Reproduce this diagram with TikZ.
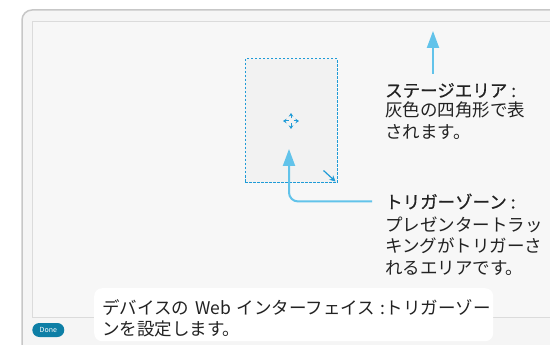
\documentclass[tikz,border=0pt]{standalone}
\usepackage{fontspec}
\setmainfont{Noto Sans CJK JP}
\newfontfamily\titlefont[FakeBold=0.5]{Noto Sans CJK JP}
\usetikzlibrary{positioning,arrows.meta,calc}
\definecolor{calloutblue}{HTML}{62C3EA}
\definecolor{zoneblue}{HTML}{1F9BD7}
\definecolor{donebtn}{HTML}{0E7FA6}
\definecolor{inktext}{HTML}{222222}
\tikzset{
    calloutarrow/.style={
        draw=calloutblue,line width=2pt,-{Triangle[length=17pt,width=12pt]}
    },
    titletext/.style={
        anchor=base west,inner sep=0pt,text=inktext,font=\fontsize{17.5}{21.5}\selectfont\titlefont
    },
    bodytext/.style={
        anchor=north west,inner sep=0pt,align=left,text=inktext,font=\fontsize{17.5}{21.5}\selectfont
    },
    zonenode/.style={
        draw=zoneblue,line width=1pt,dash pattern=on 2.5pt off 1.5pt,fill=black!5,minimum width=92pt,minimum height=124pt
    },
    iconarrow/.style={
        draw=zoneblue,line width=1pt,-{Stealth[length=3.5pt,width=4.5pt]}
    }
}

\begin{document}
\begin{tikzpicture}[x=1pt,y=-1pt]
\useasboundingbox (0,0) rectangle (550,345);
\clip (0,0) rectangle (550,345);
% screen frame
\draw[fill=black!4,draw=black!22,line width=1.5pt,rounded corners=10pt] (22,360) -- (22,10) -- (570,10) -- (570,360) -- cycle;
\draw[fill=black!3,draw=black!14,line width=1pt] (32,22) rectangle (570,317.5);

\node[zonenode] (zone) at (291,121) {};
\foreach \dx/\dy in {1/0,-1/0,0/1,0/-1}
    \draw[iconarrow] ($(zone.center)+(2.5*\dx,2.5*\dy)$) -- ($(zone.center)+(8*\dx,8*\dy)$);
\draw[iconarrow,line width=1.2pt,-{Stealth[length=6pt,width=6pt]}] ($(zone.south east)+(-14,-13)$) -- ($(zone.south east)+(-2,-2)$);

\node[titletext] (stagetitle) at (385,97) {ステージエリア :};
\node[bodytext] (stagebody) at (385,102) {灰色の四角形で表\\されます。};
\coordinate (stagetip) at (433,31);
\draw[calloutarrow,shorten <=9pt] (stagetip |- stagetitle.north) -- (stagetip);

\node[titletext] (trigtitle) at (385,208.5) {トリガーゾーン :};
\node[bodytext] (trigbody) at (385,216.5) {プレゼンタートラッ\\キングがトリガーさ\\れるエリアです。};
\coordinate (trigtip) at (289,149);
\draw[calloutarrow,rounded corners=9pt,shorten <=13pt] (trigtitle.west) -| (trigtip);

\node[fill=white,rounded corners=8pt,anchor=north west,minimum width=399pt,minimum height=53pt,text width=383pt,inner xsep=8pt,align=left,text=inktext,font=\fontsize{17.5}{21}\selectfont] (webnote) at (94,288) {\mbox{\rule{0pt}{22pt}デバイスの Web インターフェイス :トリガーゾー}\\ンを設定します。};
\node[fill=donebtn,rounded corners=7pt,minimum width=32pt,minimum height=14pt,inner sep=0pt,text=white,font=\fontsize{7}{8}\selectfont] (done) at (48.3,330) {Done};
\end{tikzpicture}
\end{document}
